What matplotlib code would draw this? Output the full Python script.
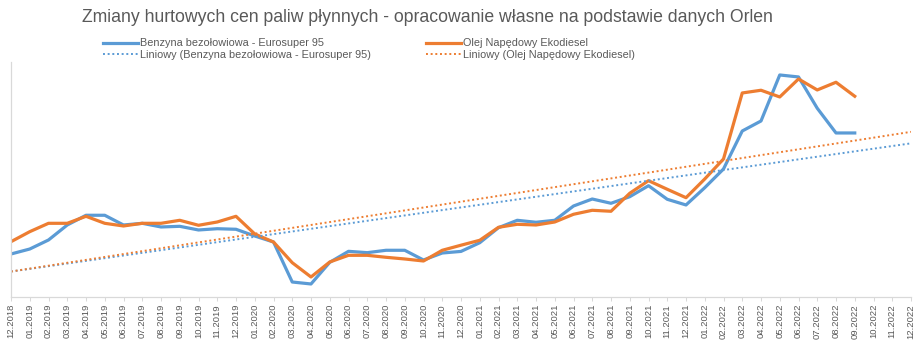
import numpy as np
import matplotlib
matplotlib.use("Agg")
import matplotlib.pyplot as plt

# monthly labels 12.2018 .. 12.2022
months = [f"{m:02d}.{y}" for y in range(2018, 2023) for m in range(1, 13)][11:]

# wholesale prices
benzyna = [3915, 4021, 4213, 4532, 4739, 4739, 4532, 4568, 4490, 4504,
           4426, 4453, 4441, 4298, 4170, 3319, 3277, 3738, 3972, 3943,
           3994, 3994, 3787, 3936, 3970, 4155, 4475, 4632, 4590, 4632,
           4936, 5085, 4994, 5134, 5368, 5079, 4958, 5326, 5724, 6532,
           6745, 7724, 7682, 7016, 6490, 6490]
diesel = [4177, 4390, 4568, 4568, 4717, 4568, 4511, 4568, 4568, 4632,
          4526, 4596, 4717, 4341, 4170, 3730, 3426, 3745, 3887, 3887,
          3845, 3809, 3766, 3994, 4102, 4207, 4483, 4547, 4532, 4596,
          4760, 4845, 4824, 5207, 5475, 5292, 5113, 5511, 5937, 7341,
          7399, 7256, 7639, 7405, 7569, 7271]

BLUE = "#5B9BD5"
ORANGE = "#ED7D31"
GRAY = "#595959"
FONT = ["Liberation Sans", "DejaVu Sans"]

x_all = np.arange(len(months))
xb = np.arange(len(benzyna))
xd = np.arange(len(diesel))

# linear trends (Excel "Liniowy"), extended to the end of the axis
tb = np.polyval(np.polyfit(xb, benzyna, 1), x_all)
td = np.polyval(np.polyfit(xd, diesel, 1), x_all)

fig = plt.figure(figsize=(9.22, 3.47), dpi=100)
ax = fig.add_axes([11 / 922, 50 / 347, 900 / 922, 235 / 347])

ax.plot(xb, benzyna, color=BLUE, lw=2.3, solid_joinstyle="round",
        label="Benzyna bezołowiowa - Eurosuper 95")
ax.plot(xd, diesel, color=ORANGE, lw=2.3, solid_joinstyle="round",
        label="Olej Napędowy Ekodiesel")
ax.plot(x_all, tb, color=BLUE, lw=1.4, ls=(0, (1, 1.4)),
        label="Liniowy (Benzyna bezołowiowa - Eurosuper 95)")
ax.plot(x_all, td, color=ORANGE, lw=1.4, ls=(0, (1, 1.4)),
        label="Liniowy (Olej Napędowy Ekodiesel)")

ax.set_xlim(0, len(months) - 1)
ax.set_ylim(3000, 8000)
ax.set_xticks(x_all)
ax.set_xticklabels(months, rotation=90, fontsize=6.8, color=GRAY, family=FONT)
ax.set_yticks([])
ax.tick_params(axis="x", length=3, width=0.75, color="#D9D9D9", pad=2)
for s in ["top", "right"]:
    ax.spines[s].set_visible(False)
for s in ["left", "bottom"]:
    ax.spines[s].set_color("#D9D9D9")
    ax.spines[s].set_linewidth(0.9)

fig.text(427 / 922, 1 - 17 / 347,
         "Zmiany hurtowych cen paliw płynnych - opracowanie własne na podstawie danych Orlen",
         ha="center", va="center", fontsize=12.7, color=GRAY, family=FONT)

h, l = ax.get_legend_handles_labels()
order = [0, 2, 1, 3]
leg = fig.legend([h[i] for i in order], [l[i] for i in order], ncol=2,
                 loc="upper left", bbox_to_anchor=(99 / 922, 1 - 34 / 347),
                 frameon=False, prop={"family": FONT, "size": 7.8},
                 handlelength=3.2, handletextpad=0.2, columnspacing=5.1,
                 labelspacing=0.13, borderaxespad=0)
for t in leg.get_texts():
    t.set_color(GRAY)

fig.savefig("out.png", dpi=100)
